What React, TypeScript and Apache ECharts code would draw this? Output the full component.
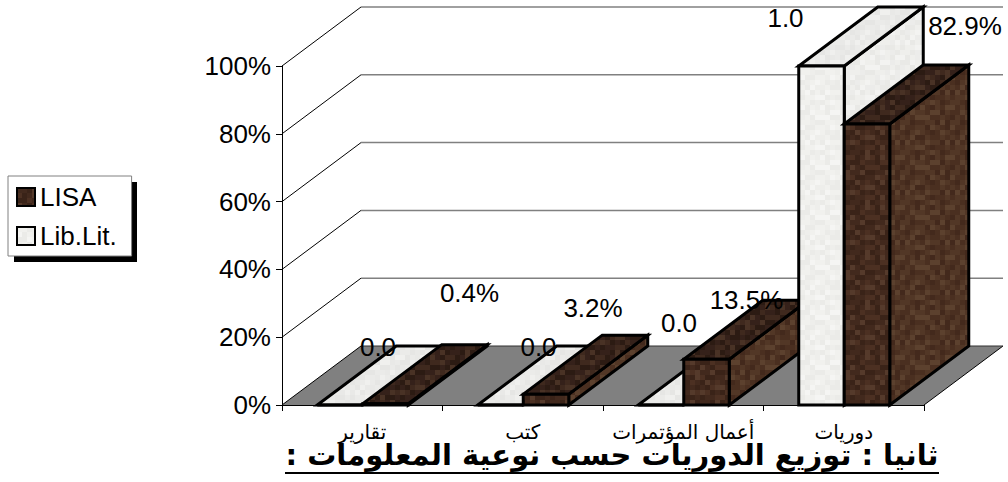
import React, { useEffect, useRef } from "react";
import * as echarts from "echarts";

const categories = ["تقارير", "كتب", "أعمال المؤتمرات", "دوريات"];
const lisaValues = [0.004, 0.032, 0.135, 0.829];
const libLitValues = [0, 0, 0, 1];
const tickValues = [0, 0.2, 0.4, 0.6, 0.8, 1];
const titleText = "ثانيا : توزيع الدوريات حسب نوعية المعلومات :\u200f";

const DEPTH_X = 79;
const DEPTH_Y = -59;
const BAR_RATIO = 0.2835;
const LATIN = '"Liberation Sans", Arial, sans-serif';
const ARABIC = '"DejaVu Sans", sans-serif';

// Where each value label sits relative to its bar's front-top centre.
const lisaLabelNudge = [[84, -111], [47, -86], [40, -59], [98, -98]];
const libLabelNudge = [[38, -58], [38, -58], [18, -82], [-36, -48]];

const grainGrid = [
  "0013102031",
  "2103213012",
  "1120012230",
  "3012221101",
  "0031100323",
  "2110032013",
  "1302013120",
  "0123301101",
  "3210120032",
  "1002213110",
];

function makeTexture(palette: string[]) {
  const cell = 5;
  const canvas = document.createElement("canvas");
  canvas.width = grainGrid[0].length * cell;
  canvas.height = grainGrid.length * cell;
  const ctx = canvas.getContext("2d")!;
  grainGrid.forEach((row, y) => {
    row.split("").forEach((c, x) => {
      ctx.fillStyle = palette[Number(c)];
      ctx.fillRect(x * cell, y * cell, cell, cell);
    });
  });
  return { image: canvas, repeat: "repeat", imageWidth: canvas.width, imageHeight: canvas.height };
}

export default function App() {
  const ref = useRef<HTMLDivElement>(null);
  useEffect(() => {
    const chart = echarts.init(ref.current!, undefined, { renderer: "svg" });

    const brown = {
      front: makeTexture(["#42291d", "#3a2318", "#4c3022", "#553a2b"]),
      top: makeTexture(["#35211a", "#2c1b13", "#3f291e", "#493225"]),
      side: makeTexture(["#523726", "#4a2f20", "#5c412e", "#43291c"]),
    };
    const light = {
      front: makeTexture(["#f1f1ee", "#ebebe8", "#f5f5f3", "#eeeeeb"]),
      top: makeTexture(["#ebebe9", "#e6e6e4", "#f0f0ee", "#e9e9e7"]),
      side: makeTexture(["#efefec", "#e9e9e6", "#f3f3f1", "#ececea"]),
    };

    const barRenderer = (seriesIdx: number, faces: any, nudges: number[][], fmt: (v: number) => string) =>
      (params: any, api: any) => {
        const cat = api.value(0);
        const val = api.value(1);
        const [cx, yTop] = api.coord([cat, val]);
        const [, yBase] = api.coord([cat, 0]);
        const w = api.size([1, 0])[0] * BAR_RATIO;
        const x0 = cx + 0.5 + (seriesIdx === 0 ? 0 : -w);
        const x1 = x0 + w;
        const z = 10 + cat * 2 + (seriesIdx === 0 ? 1 : 0);
        const st = (fill: any) => ({ fill, stroke: "#000", lineWidth: 3, lineJoin: "miter" });
        const poly = (points: number[][], fill: any) => ({ type: "polygon", z2: z, shape: { points }, style: st(fill) });
        const d = (p: number[]) => [p[0] + DEPTH_X, p[1] + DEPTH_Y];
        const children: any[] = [
          poly([[x1, yBase], [x1, yTop], d([x1, yTop]), d([x1, yBase])], faces.side),
          poly([[x0, yTop], [x1, yTop], d([x1, yTop]), d([x0, yTop])], faces.top),
          poly([[x0, yBase], [x1, yBase], [x1, yTop], [x0, yTop]], faces.front),
        ];
        const n = nudges[cat];
        children.push({
          type: "text",
          z2: 100,
          x: (x0 + x1) / 2 + n[0],
          y: yTop + n[1],
          style: {
            text: fmt(val),
            fill: "#000",
            font: `26px ${LATIN}`,
            textAlign: "center",
            textVerticalAlign: "middle",
          },
        });
        return { type: "group", children };
      };

    const wallRenderer = (params: any, api: any) => {
      const cs = params.coordSys;
      const left = cs.x;
      const right = cs.x + cs.width;
      const base = api.coord([0, 0])[1];
      const children: any[] = [
        {
          type: "polygon",
          z2: 1,
          shape: {
            points: [[left, base], [right, base], [right + DEPTH_X, base + DEPTH_Y], [left + DEPTH_X, base + DEPTH_Y]],
          },
          style: { fill: "#808080" },
        },
        {
          type: "line",
          z2: 2,
          shape: { x1: right, y1: base, x2: right + DEPTH_X, y2: base + DEPTH_Y },
          style: { stroke: "#000", lineWidth: 1 },
        },
      ];
      tickValues.forEach((t) => {
        const y = api.coord([0, t])[1];
        children.push(
          {
            type: "line",
            z2: 2,
            shape: { x1: left, y1: y, x2: left + DEPTH_X, y2: y + DEPTH_Y },
            style: { stroke: "#000", lineWidth: 1 },
          },
          {
            type: "line",
            z2: 2,
            shape: { x1: left + DEPTH_X, y1: y + DEPTH_Y, x2: right + DEPTH_X, y2: y + DEPTH_Y },
            style: { stroke: t === 0 ? "#303030" : "#808080", lineWidth: t === 0 ? 1 : 1.5 },
          }
        );
      });
      return { type: "group", children };
    };

    chart.setOption({
      animation: false,
      backgroundColor: "#fff",
      grid: { left: 282, width: 642, top: 66, height: 339 },
      xAxis: {
        type: "category",
        data: categories,
        axisLine: { show: true, lineStyle: { color: "#000", width: 1 } },
        axisTick: { show: true, length: 6, lineStyle: { color: "#000" } },
        axisLabel: { color: "#000", fontFamily: ARABIC, fontSize: 20, margin: 17, interval: 0, hideOverlap: false },
      },
      yAxis: {
        type: "value",
        min: 0,
        max: 1,
        interval: 0.2,
        axisLine: { show: true, lineStyle: { color: "#000", width: 1 } },
        axisTick: { show: true, length: 6, lineStyle: { color: "#000" } },
        splitLine: { show: false },
        axisLabel: {
          color: "#000",
          fontFamily: LATIN,
          fontSize: 26,
          margin: 11,
          formatter: (v: number) => `${Math.round(v * 100)}%`,
        },
      },
      legend: {
        left: 8,
        top: 176,
        orient: "vertical",
        padding: [8, 15, 7, 8],
        itemWidth: 18,
        itemHeight: 18,
        itemGap: 13,
        backgroundColor: "#fff",
        borderColor: "#808080",
        borderWidth: 1,
        z: 5,
        textStyle: { color: "#000", fontFamily: LATIN, fontSize: 26, padding: [0, 0, 0, 0] },
        data: [
          { name: "LISA", icon: "rect", itemStyle: { color: brown.front, borderColor: "#000", borderWidth: 2 } },
          { name: "Lib.Lit.", icon: "rect", itemStyle: { color: light.front, borderColor: "#000", borderWidth: 2 } },
        ],
      },
      series: [
        {
          type: "custom",
          name: "wall",
          silent: true,
          renderItem: wallRenderer,
          data: [[0, 0]],
          encode: { x: 0, y: 1 },
          z: 1,
        },
        {
          type: "custom",
          name: "LISA",
          renderItem: barRenderer(0, brown, lisaLabelNudge, (v) => `${(v * 100).toFixed(1)}%`),
          data: lisaValues.map((v, i) => [i, v]),
          encode: { x: 0, y: 1 },
          itemStyle: { color: "#4a2c1e" },
          z: 2,
        },
        {
          type: "custom",
          name: "Lib.Lit.",
          renderItem: barRenderer(1, light, libLabelNudge, (v) => v.toFixed(1)),
          data: libLitValues.map((v, i) => [i, v]),
          encode: { x: 0, y: 1 },
          itemStyle: { color: "#efefeb" },
          z: 2,
        },
      ],
      graphic: [
        {
          type: "rect",
          z: 1,
          shape: { x: 14, y: 182, width: 123, height: 80 },
          style: { fill: "#000" },
        },
        {
          type: "text",
          z: 50,
          x: 612,
          y: 455,
          style: {
            text: titleText,
            fill: "#000",
            font: `bold 29px ${ARABIC}`,
            textAlign: "center",
            textVerticalAlign: "middle",
          },
        },
        {
          type: "line",
          z: 50,
          shape: { x1: 285, y1: 473, x2: 939, y2: 473 },
          style: { stroke: "#000", lineWidth: 2 },
        },
      ],
    });
    return () => chart.dispose();
  }, []);
  return <div ref={ref} style={{ position: "absolute", left: 0, top: 0, width: 1008, height: 482 }} />;
}
